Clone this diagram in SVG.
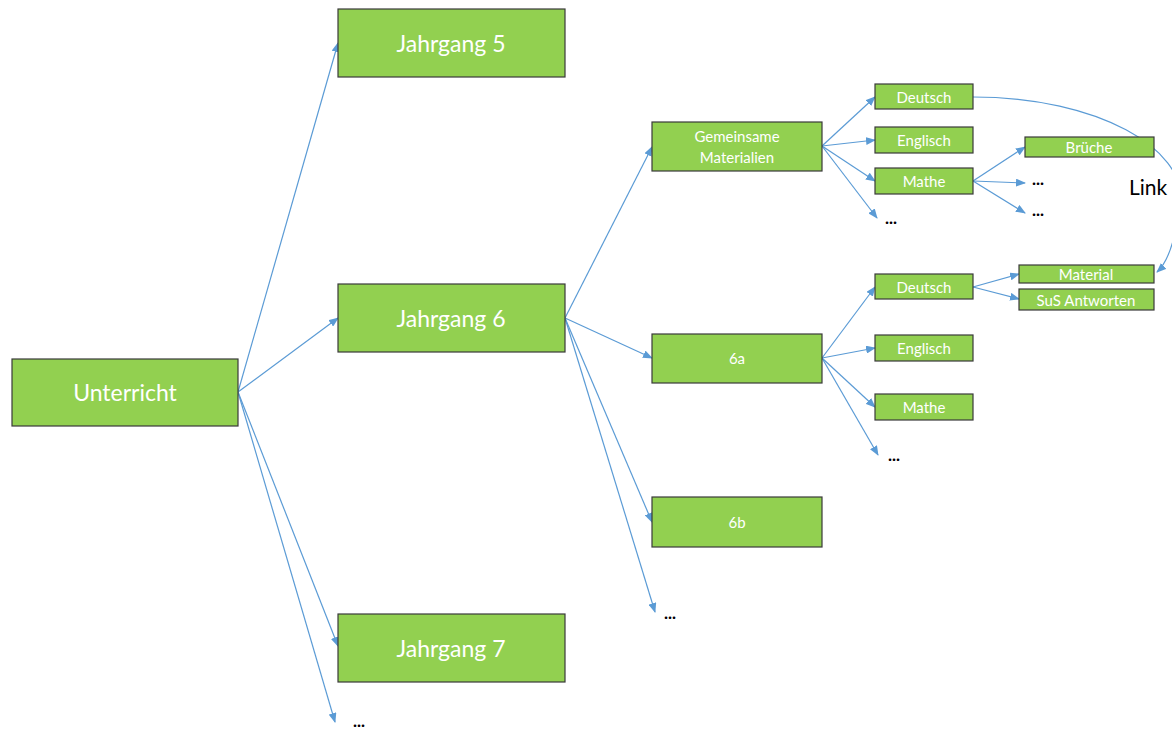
<svg xmlns="http://www.w3.org/2000/svg" width="1172" height="731" viewBox="0 0 1172 731">
<style>
.box{fill:#92d050;stroke:#3a3a3a;stroke-width:1.2}
.t{font-family:Lato,"Open Sans","Liberation Sans",sans-serif;fill:#ffffff;text-anchor:middle;dominant-baseline:central}
.big{font-size:23px}
.sm{font-size:15px}
.dots{font-family:Lato,"Liberation Sans",sans-serif;font-size:17px;fill:#000;font-weight:bold}
.c{fill:none;stroke:#5b9bd5;stroke-width:1.2;marker-end:url(#ah)}
</style>
<defs>
<marker id="ah" markerUnits="userSpaceOnUse" markerWidth="10" markerHeight="8" refX="9" refY="4" orient="auto">
<path d="M0,0 L10,4 L0,8 Z" fill="#5b9bd5"/>
</marker>
</defs>
<rect width="1172" height="731" fill="#ffffff"/>
<g id="connectors">
<line class="c" x1="238" y1="392" x2="338" y2="43"/>
<line class="c" x1="238" y1="392" x2="338" y2="318"/>
<line class="c" x1="238" y1="392" x2="338" y2="646"/>
<line class="c" x1="238" y1="392" x2="335" y2="722"/>
<line class="c" x1="565" y1="318" x2="652" y2="147"/>
<line class="c" x1="565" y1="318" x2="652" y2="358"/>
<line class="c" x1="565" y1="318" x2="652" y2="522"/>
<line class="c" x1="565" y1="318" x2="655" y2="612"/>
<line class="c" x1="822" y1="146" x2="875" y2="97"/>
<line class="c" x1="822" y1="146" x2="875" y2="140"/>
<line class="c" x1="822" y1="146" x2="875" y2="181"/>
<line class="c" x1="822" y1="146" x2="877" y2="218"/>
<line class="c" x1="822" y1="358" x2="875" y2="287"/>
<line class="c" x1="822" y1="358" x2="875" y2="348"/>
<line class="c" x1="822" y1="358" x2="875" y2="407"/>
<line class="c" x1="822" y1="358" x2="878" y2="455"/>
<line class="c" x1="973" y1="181" x2="1025" y2="147"/>
<line class="c" x1="973" y1="181" x2="1025" y2="183"/>
<line class="c" x1="973" y1="181" x2="1025" y2="213"/>
<line class="c" x1="973" y1="287" x2="1019" y2="274"/>
<line class="c" x1="973" y1="287" x2="1019" y2="299"/>
<path class="c" d="M973,97 C1100,97 1185,150 1180,200 C1176,240 1168,262 1157,272"/>
</g>
<g id="n-unterricht"><rect class="box" x="12" y="359" width="226" height="67"/><text class="t big" x="125" y="392">Unterricht</text></g>
<g id="n-j5"><rect class="box" x="338" y="9" width="227" height="68"/><text class="t big" x="451" y="43">Jahrgang 5</text></g>
<g id="n-j6"><rect class="box" x="338" y="284" width="227" height="68"/><text class="t big" x="451" y="318">Jahrgang 6</text></g>
<g id="n-j7"><rect class="box" x="338" y="614" width="227" height="68"/><text class="t big" x="451" y="648">Jahrgang 7</text></g>
<g id="n-gem"><rect class="box" x="652" y="122" width="170" height="49"/><text class="t sm" x="737" y="136">Gemeinsame</text><text class="t sm" x="737" y="157">Materialien</text></g>
<g id="n-6a"><rect class="box" x="652" y="334" width="170" height="49"/><text class="t sm" x="737" y="358">6a</text></g>
<g id="n-6b"><rect class="box" x="652" y="497" width="170" height="50"/><text class="t sm" x="737" y="522">6b</text></g>
<g id="n-deutsch1"><rect class="box" x="875" y="84" width="98" height="25"/><text class="t sm" x="924" y="96.5">Deutsch</text></g>
<g id="n-englisch1"><rect class="box" x="875" y="127" width="98" height="26"/><text class="t sm" x="924" y="140">Englisch</text></g>
<g id="n-mathe1"><rect class="box" x="875" y="168" width="98" height="26"/><text class="t sm" x="924" y="181">Mathe</text></g>
<g id="n-deutsch2"><rect class="box" x="875" y="274" width="98" height="25"/><text class="t sm" x="924" y="286.5">Deutsch</text></g>
<g id="n-englisch2"><rect class="box" x="875" y="335" width="98" height="26"/><text class="t sm" x="924" y="348">Englisch</text></g>
<g id="n-mathe2"><rect class="box" x="875" y="394" width="98" height="26"/><text class="t sm" x="924" y="407">Mathe</text></g>
<g id="n-bruche"><rect class="box" x="1025" y="137" width="129" height="20"/><text class="t sm" x="1089" y="147">Brüche</text></g>
<g id="n-material"><rect class="box" x="1019" y="265" width="135" height="18"/><text class="t sm" x="1086" y="274">Material</text></g>
<g id="n-sus"><rect class="box" x="1019" y="289" width="135" height="21"/><text class="t sm" x="1086" y="299.5">SuS Antworten</text></g>
<g id="labels">
<text class="dots" x="353" y="727">...</text>
<text class="dots" x="664" y="619">...</text>
<text class="dots" x="885" y="224">...</text>
<text class="dots" x="888" y="461">...</text>
<text class="dots" x="1032" y="185">...</text>
<text class="dots" x="1032" y="216">...</text>
<text x="1129" y="195" font-family="Lato,'Liberation Sans',sans-serif" font-size="21" fill="#000">Link</text>
</g>
</svg>
